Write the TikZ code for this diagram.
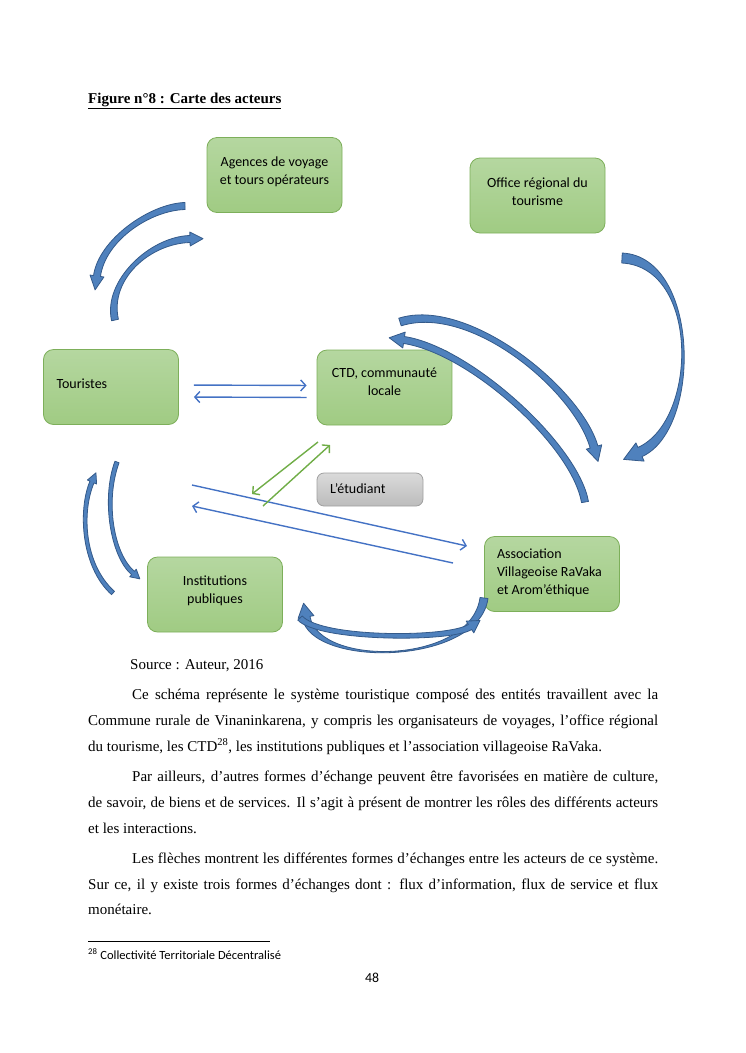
\documentclass[tikz,border=0pt]{standalone}
\usepackage{fontspec}
\setmainfont{Liberation Serif}
\newfontfamily\calibri{Carlito}
\usetikzlibrary{calc,arrows.meta}

\definecolor{actortop}{RGB}{181,215,160}
\definecolor{actorbot}{RGB}{160,203,131}
\definecolor{actorline}{RGB}{125,175,90}
\definecolor{greytop}{RGB}{218,218,218}
\definecolor{greybot}{RGB}{188,188,188}
\definecolor{greyline}{RGB}{160,160,160}
\definecolor{flowfill}{RGB}{79,129,189}
\definecolor{flowline}{RGB}{52,90,138}
\definecolor{infoblue}{RGB}{68,114,196}
\definecolor{infogreen}{RGB}{112,173,71}

\tikzset{
  actor/.style={draw=actorline, line width=0.8pt, rounded corners=10pt,
    top color=actortop, bottom color=actorbot, text width=118pt,
    inner xsep=8.5pt, inner ysep=0pt, minimum height=75pt, align=flush center,
    text height=10pt, text depth=28pt, font=\calibri\fontsize{14}{18}\selectfont},
  student/.style={draw=greyline, line width=0.8pt, rounded corners=7pt,
    top color=greytop, bottom color=greybot, text width=80pt,
    inner xsep=13pt, inner ysep=0pt, minimum height=33pt, align=flush left,
    text height=10pt, text depth=2pt, font=\calibri\fontsize{14}{18}\selectfont},
  infoarrow/.style={draw=infoblue, line width=1.4pt,
    -{Straight Barb[length=5pt,width=11pt]}},
  studarrow/.style={infoarrow, draw=infogreen},
  bigflow/.style={fill=flowfill, draw=flowline, line width=0.8pt, line join=round},
  textline/.style={anchor=base west, inner sep=0pt, font=\fontsize{15}{18}\selectfont},
}

% curved block arrow: tail, control, control, head base, half shaft, half head, head length
\newcommand{\flowarrow}[7]{%
  \coordinate (ta) at ($(#1)!#5!-90:(#2)$);
  \coordinate (tb) at ($(#1)!#5!90:(#2)$);
  \coordinate (ea) at ($(#4)!#5!90:(#3)$);
  \coordinate (eb) at ($(#4)!#5!-90:(#3)$);
  \coordinate (ha) at ($(#4)!#6!90:(#3)$);
  \coordinate (hb) at ($(#4)!#6!-90:(#3)$);
  \coordinate (tip) at ($(#4)!-#7!(#3)$);
  \filldraw[bigflow] (ta) .. controls ($(#2)+(ta)-(#1)$) and ($(#3)+(ea)-(#4)$) .. (ea)
    -- (ha) -- (tip) -- (hb) -- (eb)
    .. controls ($(#3)+(eb)-(#4)$) and ($(#2)+(tb)-(#1)$) .. (tb) -- cycle;
}

\begin{document}
\begin{tikzpicture}[x=1pt,y=-1pt]
\useasboundingbox (0,0) rectangle (745,1053);

\node[textline, font=\bfseries\fontsize{15}{18}\selectfont] (title) at (88,103)
  {\underline{Figure n°8 : Carte des acteurs}};

% acteurs
\node[actor] (agences) at (274.5,175) {Agences de voyage\\et tours opérateurs};
\node[actor, text depth=27pt] (office) at (537.5,195.5) {Office régional du\\tourisme};
\node[actor, align=flush left, inner xsep=13pt, text width=109pt, text depth=8pt] (tour) at (111,387) {Touristes};
\node[actor, text depth=30pt] (ctd) at (384.5,387.5) {CTD, communauté\\locale};
\node[student] (etud) at (370,489.5) {L’étudiant};
\node[actor, text depth=29pt] (inst) at (215,594.5) {Institutions\\publiques};
\node[actor, align=flush left, text depth=42pt, inner xsep=12.5pt, text width=110pt] (assoc) at (552,574)
  {Association\\Villageoise RaVaka\\et Arom’éthique};

% flux fins
\draw[infoarrow, shorten <=15pt, shorten >=10pt] ([yshift=2pt]tour.east) -- ([yshift=2pt]ctd.west);
\draw[infoarrow, shorten <=10pt, shorten >=15pt] ([yshift=-10pt]ctd.west) -- ([yshift=-10pt]tour.east);
\coordinate (longa) at (192,485);
\coordinate (longb) at (467,546);
\coordinate (longc) at (453,563);
\coordinate (longd) at (192,506);
\draw[infoarrow] (longa) -- (longb);
\draw[infoarrow] (longc) -- (longd);
\coordinate (greena) at (318,442);
\coordinate (greenb) at (252,494);
\coordinate (greenc) at (263,506);
\coordinate (greend) at (330,445);
\draw[studarrow] (greena) -- (greenb);
\draw[studarrow] (greenc) -- (greend);

% flux courbes
\flowarrow{185,206}{150,207}{102,240}{97,276}{3.5pt}{7pt}{14pt}
\flowarrow{115,320}{106,280}{150,240}{190,239}{3.5pt}{7pt}{13pt}
\flowarrow{400,322}{470,300}{578,390}{594,447}{4pt}{8pt}{15pt}
\flowarrow{585,502}{575,445}{470,350}{404,340}{3.5pt}{8pt}{15pt}
\flowarrow{622,258}{700,262}{700,425}{640,452}{5pt}{10pt}{18pt}
\flowarrow{113,593}{82,565}{80,510}{92,482}{2.2pt}{5pt}{10pt}
\flowarrow{117,462}{103,500}{112,555}{133,573}{2.2pt}{5pt}{9pt}
\flowarrow{484,598}{475,665}{315,668}{306,617}{4pt}{8pt}{14pt}
\flowarrow{300,618}{320,640}{450,640}{470,627}{3pt}{7pt}{12pt}

% texte de la page
\node[textline] (source) at (130,669) {Source : Auteur, 2016};
\node[textline] (pa1) at (132,699) {\makebox[526pt][s]{Ce schéma représente le système touristique composé des entités travaillent avec la}};
\node[textline] (pa2) at (88,725) {\makebox[570pt][s]{Commune rurale de Vinaninkarena, y compris les organisateurs de voyages, l’office régional}};
\node[textline] (pa3) at (88,751) {du tourisme, les CTD\textsuperscript{28}, les institutions publiques et l’association villageoise RaVaka.};
\node[textline] (pb1) at (132,781) {\makebox[526pt][s]{Par ailleurs, d’autres formes d’échange peuvent être favorisées en matière de culture,}};
\node[textline] (pb2) at (88,807) {\makebox[570pt][s]{de savoir, de biens et de services. Il s’agit à présent de montrer les rôles des différents acteurs}};
\node[textline] (pb3) at (88,833) {et les interactions.};
\node[textline] (pc1) at (132,863) {\makebox[526pt][s]{Les flèches montrent les différentes formes d’échanges entre les acteurs de ce système.}};
\node[textline] (pc2) at (88,889) {\makebox[570pt][s]{Sur ce, il y existe trois formes d’échanges dont : flux d’information, flux de service et flux}};
\node[textline] (pc3) at (88,914) {monétaire.};
\draw[line width=0.6pt] (88,941) -- (270,941);
\node[textline, font=\calibri\fontsize{12.5}{15}\selectfont] (note) at (88,959)
  {\textsuperscript{28} Collectivité Territoriale Décentralisé};
\node[anchor=base, inner sep=0pt, font=\calibri\fontsize{13.8}{16}\selectfont] (page) at (372,982) {48};
\end{tikzpicture}
\end{document}
